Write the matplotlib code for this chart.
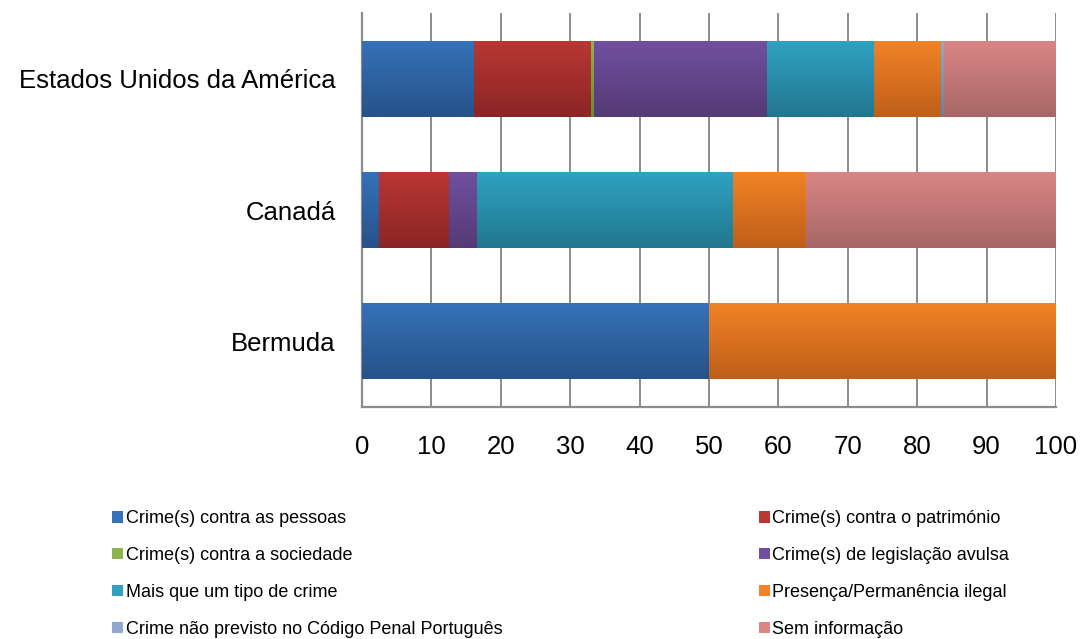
import numpy as np
import matplotlib.pyplot as plt
from matplotlib.colors import LinearSegmentedColormap
from matplotlib.patches import Patch

plt.rcParams['font.family'] = ['Liberation Sans', 'DejaVu Sans']

# data (percentages)
countries = ["Bermuda", "Canadá", "Estados Unidos da América"]
categories = ["Crime(s) contra as pessoas", "Crime(s) contra o património",
              "Crime(s) contra a sociedade", "Crime(s) de legislação avulsa",
              "Mais que um tipo de crime", "Presença/Permanência ilegal",
              "Crime não previsto no Código Penal Português", "Sem informação"]
pessoas     = [50.0, 2.5, 16.2]
patrimonio  = [0.0, 10.0, 16.8]
sociedade   = [0.0, 0.0, 0.4]
legislacao  = [0.0, 4.0, 25.0]
mais_tipo   = [0.0, 37.0, 15.4]
presenca    = [50.0, 10.5, 9.7]
nao_previsto = [0.0, 0.0, 0.4]
sem_info    = [0.0, 36.0, 16.1]
series = [pessoas, patrimonio, sociedade, legislacao, mais_tipo, presenca, nao_previsto, sem_info]

# (top, bottom) gradient colours
colors = [("#3572b8", "#27528a"), ("#ba3734", "#8b2524"), ("#8db44c", "#6b8a36"),
          ("#7150a0", "#543a76"), ("#2fa2c2", "#22778f"), ("#f28326", "#bf5f19"),
          ("#8fa9d0", "#6a80a2"), ("#d98685", "#a76766")]

fig = plt.figure(figsize=(10.8, 6.39), dpi=100)
ax = fig.add_axes([362/1080, 1-407/639, 694/1080, 394/639])

y = np.arange(len(countries))
left = np.zeros(len(countries))
for vals, (ctop, cbot) in zip(series, colors):
    bars = ax.barh(y, vals, left=left, height=0.58, color=ctop, linewidth=0, zorder=3)
    cmap = LinearSegmentedColormap.from_list("g", [ctop, cbot])
    for b in bars:
        if b.get_width() <= 0:
            continue
        x0, y0 = b.get_x(), b.get_y()
        w, h = b.get_width(), b.get_height()
        grad = np.linspace(0, 1, 64).reshape(-1, 1)
        im = ax.imshow(grad, cmap=cmap, aspect='auto', extent=(x0, x0 + w, y0, y0 + h),
                       origin='upper', zorder=3.5)
        im.set_clip_path(b)
    left += np.array(vals)

ax.set_xlim(0, 100)
ax.set_ylim(-0.5, 2.5)
ax.set_xticks(np.arange(0, 101, 10))
ax.set_yticks(y)
ax.set_yticklabels(countries, fontsize=18.5)
ax.tick_params(axis='x', labelsize=18.5, length=0, pad=20)
ax.tick_params(axis='y', length=0, pad=19)
ax.xaxis.grid(True, color="#8c8c8c", linewidth=1.4, zorder=0)
for s in ['top', 'right']:
    ax.spines[s].set_visible(False)
for s in ['left', 'bottom']:
    ax.spines[s].set_color("#8c8c8c")
    ax.spines[s].set_linewidth(1.6)

handles = [Patch(facecolor=c[0], edgecolor='none') for c in colors]
order = [0, 2, 4, 6, 1, 3, 5, 7]
fig.legend([handles[i] for i in order], [categories[i] for i in order],
           ncol=2, loc='upper left', bbox_to_anchor=(96/1080, 1-494/639),
           frameon=False, fontsize=13, handlelength=0.6, handleheight=0.6,
           handletextpad=0.15, labelspacing=1.1, columnspacing=14.2)

fig.savefig("out.png", dpi=100)
